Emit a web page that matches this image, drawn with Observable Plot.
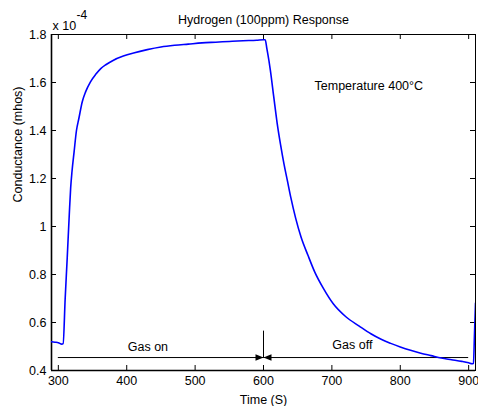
<!DOCTYPE html>
<html>
<head>
<meta charset="utf-8">
<script src="https://cdn.jsdelivr.net/npm/d3@7"></script>
<script src="https://cdn.jsdelivr.net/npm/@observablehq/plot@0.6"></script>
<style>
  html, body { margin: 0; padding: 0; background: #fff; }
</style>
</head>
<body>
<div id="chart"></div>
<script>
// Time (s)
const time = [290, 295, 300, 305, 307, 310, 313, 316, 318, 320, 323, 326.5, 330, 335, 340, 347, 355, 362, 370, 380, 395, 410, 430, 450, 470, 490, 510, 530, 550, 570, 590, 600, 602.5, 605, 608, 610, 615, 620, 625, 630, 635, 640, 647, 655, 665, 675, 688, 702, 720, 740, 757, 772, 786, 800, 815, 830, 845, 860, 875, 890, 900, 905, 907, 908.5, 910];
// Conductance (x 10^-4 mhos)
const conductance = [0.52, 0.518, 0.516, 0.51, 0.512, 0.70, 0.87, 1.05, 1.16, 1.23, 1.31, 1.40, 1.45, 1.52, 1.562, 1.603, 1.635, 1.658, 1.675, 1.692, 1.710, 1.723, 1.737, 1.748, 1.755, 1.760, 1.765, 1.768, 1.771, 1.774, 1.776, 1.778, 1.778, 1.74, 1.69, 1.652, 1.54, 1.43, 1.34, 1.26, 1.19, 1.12, 1.035, 0.955, 0.88, 0.81, 0.74, 0.678, 0.625, 0.585, 0.553, 0.530, 0.513, 0.498, 0.484, 0.472, 0.462, 0.452, 0.445, 0.438, 0.432, 0.428, 0.43, 0.55, 0.68];

const xTicks = [300, 400, 500, 600, 700, 800, 900];
const yTicks = [0.4, 0.6, 0.8, 1.0, 1.2, 1.4, 1.6, 1.8];
const yTickLabels = ["0.4", "0.6", "0.8", "1", "1.2", "1.4", "1.6", "1.8"];

const titleText = "Hydrogen (100ppm) Response";
const xLabel = "Time (S)";
const yLabel = "Conductance (mhos)";

// Gas on / off annotation (data coordinates)
const gasLineLevel = 0.454;
const gasStart = 300, gasSwitch = 600, gasEnd = 900;
const switchTop = 0.564;
const notes = [
  {t: 431, v: 0.496, text: "Gas on"},
  {t: 730, v: 0.508, text: "Gas off"},
  {t: 754, v: 1.585, text: "Temperature 400°C"}
];

const data = time.map((t, i) => ({t, v: conductance[i]}));

const arrowRight = { draw(ctx) { ctx.moveTo(0, 0); ctx.lineTo(-8, -3.2); ctx.lineTo(-8, 3.2); ctx.closePath(); } };
const arrowLeft  = { draw(ctx) { ctx.moveTo(0, 0); ctx.lineTo(8, -3.2); ctx.lineTo(8, 3.2); ctx.closePath(); } };

const font = "'Liberation Sans', Arial, Helvetica, sans-serif";

const chart = Plot.plot({
  width: 478,
  height: 406,
  marginLeft: 51,
  marginRight: 3,
  marginTop: 34,
  marginBottom: 36,
  style: {fontFamily: font, fontSize: "12.5px", background: "#fff", color: "#000"},
  x: {domain: [290, 910]},
  y: {domain: [0.4, 1.8]},
  marks: [
    // tick marks inside the frame on all four sides
    Plot.ruleX(xTicks, {x: d => d, insetTop: 331, stroke: "black"}),
    Plot.ruleX(xTicks, {x: d => d, insetBottom: 331, stroke: "black"}),
    Plot.ruleY(yTicks, {y: d => d, insetRight: 419, stroke: "black"}),
    Plot.ruleY(yTicks, {y: d => d, insetLeft: 419, stroke: "black"}),
    Plot.axisX(xTicks, {tickSize: 0, tickPadding: 6, label: null, fontSize: 12.5}),
    Plot.axisY(yTicks, {tickSize: 0, tickPadding: 5, label: null, tickFormat: (d) => yTickLabels[yTicks.indexOf(d)], fontSize: 12.5}),
    Plot.frame({stroke: "black", strokeWidth: 1}),
    Plot.ruleX([290], {stroke: "black", strokeWidth: 1.6}),
    Plot.ruleY([0.4], {stroke: "black", strokeWidth: 1.6}),
    // gas on / off annotation
    Plot.ruleY([gasLineLevel], {x1: gasStart, x2: gasEnd, stroke: "black"}),
    Plot.ruleX([gasSwitch], {y1: gasLineLevel, y2: switchTop, stroke: "black"}),
    Plot.dot([gasSwitch], {x: d => d, y: () => gasLineLevel, symbol: arrowRight, fill: "black", stroke: "none", r: 4}),
    Plot.dot([gasSwitch], {x: d => d, y: () => gasLineLevel, symbol: arrowLeft, fill: "black", stroke: "none", r: 4}),
    Plot.text(notes, {x: "t", y: "v", text: "text", fontSize: 12.5, fill: "black"}),
    // response curve
    Plot.line(data, {x: "t", y: "v", stroke: "#0000ff", strokeWidth: 1.6, curve: "monotone-x", clip: true}),
    // titles
    Plot.text([titleText], {frameAnchor: "top", lineAnchor: "middle", dy: -15, fontSize: 12.5, fill: "black"}),
    Plot.text(["x 10"], {frameAnchor: "top-left", lineAnchor: "middle", textAnchor: "start", dx: 1, dy: -9, fontSize: 12.5, fill: "black"}),
    Plot.text(["-4"], {frameAnchor: "top-left", lineAnchor: "middle", textAnchor: "start", dx: 25, dy: -19, fontSize: 12, fill: "black"}),
    Plot.text([xLabel], {frameAnchor: "bottom", lineAnchor: "middle", dy: 29, fontSize: 12.5, fill: "black"}),
    Plot.text([yLabel], {frameAnchor: "left", dx: -34, rotate: -90, fontSize: 12.5, fill: "black"})
  ]
});
document.getElementById("chart").appendChild(chart);
</script>
</body>
</html>
